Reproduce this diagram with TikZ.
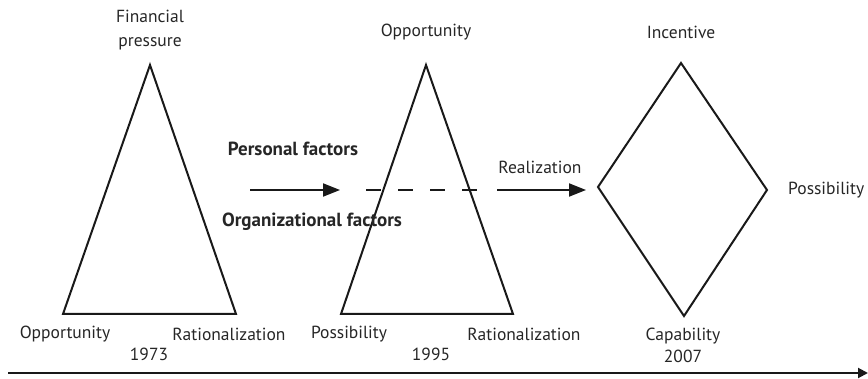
\documentclass[tikz,border=0pt]{standalone}
\usepackage{fontspec}
\setmainfont{PT Sans}
\usetikzlibrary{arrows.meta}
\begin{document}
\begin{tikzpicture}[x=1pt,y=-1pt,
  outline/.style={draw=black!90, line width=2pt, line join=miter},
  lbl/.style={font=\fontsize{17.5}{24}\selectfont, text=black!85, inner sep=0pt, align=center},
  blbl/.style={lbl, font=\fontsize{19}{24}\selectfont\bfseries},
  flow/.style={draw=black!90, line width=2pt, -{Triangle[length=17pt,width=13pt]}},
  timeline/.style={draw=black!90, line width=2pt, -{Triangle[length=10pt,width=10pt]}}]
\useasboundingbox (0,0) rectangle (868,379);

% 1973 triangle
\coordinate (a1) at (150,65);
\coordinate (b1) at (63,314);
\coordinate (c1) at (236,314);
\draw[outline] (a1) -- (b1) -- (c1) -- cycle;
\node[lbl] (fp) at (150,30) {Financial\\pressure};
\node[lbl] (o1) at (65,334) {Opportunity};
\node[lbl] (r1) at (229,334) {Rationalization};
\node[lbl] (y1) at (149,354) {1973};

% 1995 triangle
\coordinate (a2) at (426,65);
\coordinate (b2) at (341,314);
\coordinate (c2) at (513,314);
\draw[outline] (a2) -- (b2) -- (c2) -- cycle;
\node[lbl] (o2) at (426,32) {Opportunity};
\node[lbl] (p2) at (349,334) {Possibility};
\node[lbl] (r2) at (524,334) {Rationalization};
\node[lbl] (y2) at (431,354) {1995};

% 2007 diamond
\coordinate (t3) at (681,63);
\coordinate (l3) at (598,187);
\coordinate (b3) at (684,316);
\coordinate (r3) at (767,190);
\draw[outline] (t3) -- (l3) -- (b3) -- (r3) -- cycle;
\node[lbl] (i3) at (681,32) {Incentive};
\node[lbl,anchor=west] (p3) at (788,190) {Possibility};
\node[lbl] (c3) at (683,336) {Capability};
\node[lbl] (y3) at (683,356) {2007};

% factors and realization
\node[blbl] (pf) at (293,149) {Personal factors};
\node[blbl] (of) at (312,222) {Organizational factors};
\node[lbl] (re) at (540,167) {Realization};
\coordinate (s1) at (250,190);
\coordinate (e1) at (340,190);
\coordinate (s2) at (366,190);
\coordinate (e2) at (478,190);
\coordinate (s3) at (497,190);
\coordinate (e3) at (586,190);
\draw[flow] (s1) -- (e1);
\draw[draw=black!90, line width=2pt, dash pattern=on 15pt off 17pt] (s2) -- (e2);
\draw[flow] (s3) -- (e3);

% time axis
\coordinate (ts) at (8,373);
\coordinate (te) at (868,373);
\draw[timeline] (ts) -- (te);
\end{tikzpicture}
\end{document}
